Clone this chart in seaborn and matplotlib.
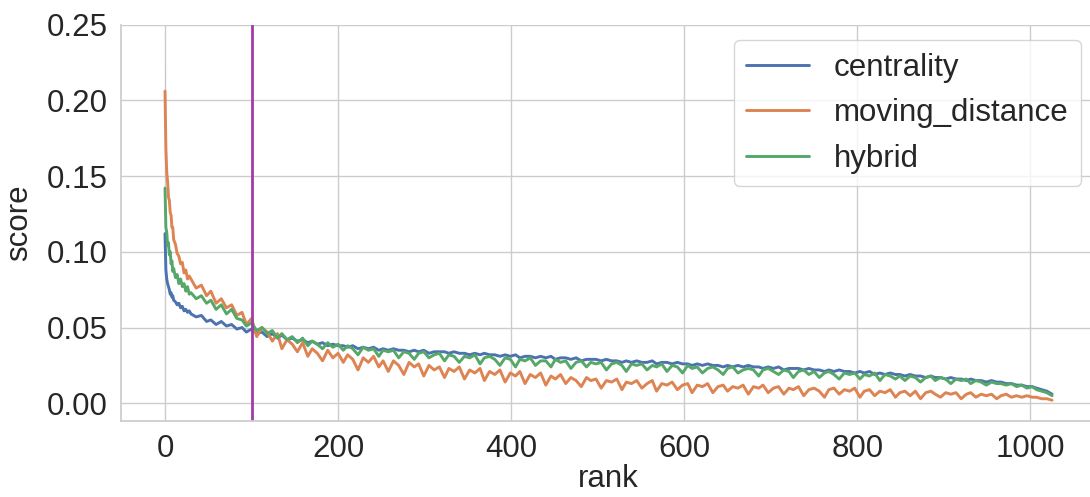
# import libraries
import numpy as np
import pandas as pd
import matplotlib
matplotlib.use("Agg")
import matplotlib.pyplot as plt
import seaborn as sns

# ranks: dense at the head, then roughly every 6 ranks up to 1025
rank = list(range(0, 11)) + list(range(12, 30, 2)) + \
    [int(round(v)) for v in np.linspace(30, 1025, 171)]

# scores
centrality = [
    0.112, 0.088, 0.082, 0.079, 0.077, 0.075, 0.072, 0.073, 0.070, 0.071, 0.068,
    0.067, 0.065, 0.066, 0.063, 0.064, 0.061, 0.062, 0.060, 0.061,
    0.059, 0.057, 0.058, 0.054, 0.055, 0.052, 0.054, 0.051, 0.052, 0.049,
    0.050, 0.047, 0.049, 0.046, 0.047, 0.044, 0.046, 0.043, 0.045, 0.042,
    0.043, 0.041, 0.042, 0.040, 0.041, 0.039, 0.040, 0.038, 0.039, 0.038,
    0.038, 0.037, 0.038, 0.036, 0.037, 0.036, 0.037, 0.035, 0.036, 0.035,
    0.036, 0.035, 0.035, 0.034, 0.035, 0.034, 0.035, 0.033, 0.034, 0.034,
    0.034, 0.033, 0.034, 0.033, 0.033, 0.032, 0.033, 0.032, 0.033, 0.032,
    0.032, 0.031, 0.032, 0.031, 0.032, 0.030, 0.031, 0.031, 0.030, 0.031,
    0.030, 0.031, 0.029, 0.030, 0.030, 0.029, 0.030, 0.028, 0.029, 0.029,
    0.029, 0.028, 0.029, 0.028, 0.028, 0.027, 0.028, 0.027, 0.028, 0.027,
    0.027, 0.028, 0.026, 0.027, 0.027, 0.026, 0.027, 0.026, 0.026, 0.025,
    0.026, 0.025, 0.026, 0.025, 0.025, 0.024, 0.025, 0.024, 0.025, 0.024,
    0.025, 0.024, 0.024, 0.023, 0.024, 0.023, 0.024, 0.022, 0.023, 0.023,
    0.023, 0.022, 0.023, 0.022, 0.022, 0.021, 0.022, 0.021, 0.022, 0.021,
    0.021, 0.020, 0.021, 0.020, 0.021, 0.019, 0.020, 0.019, 0.020, 0.019,
    0.019, 0.018, 0.019, 0.018, 0.018, 0.017, 0.018, 0.017, 0.017, 0.016,
    0.017, 0.016, 0.016, 0.015, 0.016, 0.015, 0.015, 0.014, 0.015, 0.014,
    0.014, 0.013, 0.013, 0.012, 0.012, 0.011, 0.011, 0.010, 0.009, 0.008,
    0.006,
]
moving_distance = [
    0.206, 0.168, 0.152, 0.146, 0.136, 0.134, 0.126, 0.124, 0.116, 0.116, 0.108,
    0.105, 0.099, 0.097, 0.092, 0.093, 0.086, 0.088, 0.082, 0.084,
    0.082, 0.076, 0.078, 0.071, 0.074, 0.066, 0.069, 0.063, 0.065, 0.058,
    0.060, 0.052, 0.056, 0.044, 0.050, 0.047, 0.041, 0.046, 0.036, 0.042,
    0.039, 0.034, 0.040, 0.031, 0.036, 0.033, 0.028, 0.035, 0.030, 0.033,
    0.027, 0.032, 0.029, 0.022, 0.030, 0.027, 0.031, 0.024, 0.028, 0.021,
    0.028, 0.025, 0.019, 0.027, 0.024, 0.026, 0.018, 0.025, 0.022, 0.024,
    0.017, 0.023, 0.021, 0.024, 0.016, 0.022, 0.020, 0.023, 0.015, 0.021,
    0.019, 0.022, 0.014, 0.020, 0.018, 0.021, 0.013, 0.019, 0.017, 0.020,
    0.012, 0.018, 0.016, 0.019, 0.013, 0.017, 0.015, 0.011, 0.017, 0.015,
    0.016, 0.010, 0.015, 0.014, 0.016, 0.009, 0.014, 0.013, 0.015, 0.010,
    0.013, 0.015, 0.008, 0.013, 0.012, 0.014, 0.009, 0.012, 0.013, 0.007,
    0.012, 0.011, 0.013, 0.007, 0.011, 0.012, 0.008, 0.011, 0.010, 0.012,
    0.006, 0.011, 0.010, 0.012, 0.007, 0.010, 0.011, 0.006, 0.010, 0.009,
    0.011, 0.005, 0.009, 0.010, 0.008, 0.004, 0.009, 0.010, 0.006, 0.009,
    0.008, 0.010, 0.004, 0.008, 0.009, 0.005, 0.008, 0.007, 0.009, 0.004,
    0.007, 0.008, 0.005, 0.008, 0.003, 0.007, 0.008, 0.006, 0.004, 0.007,
    0.006, 0.007, 0.003, 0.006, 0.007, 0.004, 0.006, 0.005, 0.006, 0.003,
    0.005, 0.006, 0.004, 0.005, 0.004, 0.005, 0.004, 0.004, 0.003, 0.003,
    0.002,
]
hybrid = [
    0.142, 0.116, 0.113, 0.104, 0.106, 0.098, 0.100, 0.092, 0.094, 0.087, 0.089,
    0.083, 0.085, 0.079, 0.082, 0.077, 0.079, 0.074, 0.077, 0.072,
    0.073, 0.069, 0.071, 0.066, 0.068, 0.062, 0.065, 0.059, 0.062, 0.056,
    0.055, 0.051, 0.053, 0.048, 0.050, 0.046, 0.048, 0.043, 0.046, 0.042,
    0.044, 0.040, 0.043, 0.038, 0.041, 0.039, 0.036, 0.040, 0.037, 0.039,
    0.035, 0.038, 0.036, 0.032, 0.037, 0.035, 0.036, 0.031, 0.035, 0.034,
    0.035, 0.030, 0.034, 0.033, 0.029, 0.033, 0.034, 0.030, 0.032, 0.033,
    0.028, 0.032, 0.031, 0.027, 0.031, 0.030, 0.032, 0.026, 0.030, 0.031,
    0.029, 0.025, 0.030, 0.029, 0.024, 0.029, 0.028, 0.030, 0.025, 0.028,
    0.028, 0.024, 0.029, 0.027, 0.028, 0.023, 0.027, 0.028, 0.024, 0.027,
    0.026, 0.027, 0.022, 0.026, 0.027, 0.025, 0.021, 0.026, 0.025, 0.026,
    0.022, 0.025, 0.024, 0.026, 0.021, 0.025, 0.024, 0.020, 0.025, 0.023,
    0.024, 0.020, 0.023, 0.024, 0.022, 0.019, 0.023, 0.024, 0.020, 0.022,
    0.023, 0.022, 0.018, 0.022, 0.023, 0.021, 0.019, 0.022, 0.021, 0.017,
    0.021, 0.022, 0.019, 0.021, 0.017, 0.020, 0.021, 0.019, 0.016, 0.020,
    0.019, 0.020, 0.016, 0.019, 0.018, 0.020, 0.015, 0.019, 0.018, 0.016,
    0.018, 0.015, 0.018, 0.017, 0.014, 0.017, 0.018, 0.015, 0.017, 0.016,
    0.013, 0.016, 0.015, 0.016, 0.013, 0.015, 0.014, 0.012, 0.014, 0.013,
    0.013, 0.012, 0.013, 0.011, 0.012, 0.010, 0.011, 0.009, 0.008, 0.007,
    0.005,
]
# upper edge of the confidence band at the very first ranks (moving_distance)
md_band_rank = [0, 1, 2, 3, 4, 5]
md_band_hi = [0.238, 0.190, 0.165, 0.155, 0.145, 0.140]

cutoff_rank = 100

# long table for seaborn
df = pd.concat([
    pd.DataFrame({"rank": rank, "score": centrality, "method": "centrality"}),
    pd.DataFrame({"rank": rank, "score": moving_distance, "method": "moving_distance"}),
    pd.DataFrame({"rank": rank, "score": hybrid, "method": "hybrid"}),
])

sns.set_theme(style="whitegrid", palette="deep")
plt.rcParams["font.family"] = ["Liberation Sans", "DejaVu Sans"]
fs = 22.5

fig = plt.figure(figsize=(10.9, 4.97), dpi=100)
ax = fig.add_axes([0.1107, 0.1535, 0.8952, 0.7972])

sns.lineplot(data=df, x="rank", y="score", hue="method", palette="deep",
             errorbar=None, linewidth=2.1, ax=ax)
colors = sns.color_palette("deep")
md_lo = [moving_distance[rank.index(r)] for r in md_band_rank]
ax.fill_between(md_band_rank, md_lo, md_band_hi, color=colors[1], alpha=0.2, lw=0)
ax.axvline(cutoff_rank, color="#a23aa8", linewidth=2)

ax.set_xlim(-51.25, 1076.25)
ax.set_ylim(-0.0115, 0.2495)
ax.set_yticks([0.0, 0.05, 0.10, 0.15, 0.20, 0.25])
ax.set_xticks([0, 200, 400, 600, 800, 1000])
ax.yaxis.set_major_formatter(matplotlib.ticker.FormatStrFormatter("%.2f"))
ax.tick_params(labelsize=fs, colors=".15")
ax.set_xlabel("rank", fontsize=fs, color=".15", labelpad=0)
ax.set_ylabel("score", fontsize=fs, color=".15", labelpad=9)

handles, labels = ax.get_legend_handles_labels()
for h in handles:
    h.set_linewidth(2.1)
ax.legend(handles, labels, loc="upper right", fontsize=fs, title=None)
sns.despine(ax=ax)

fig.savefig("out.png", dpi=100)
